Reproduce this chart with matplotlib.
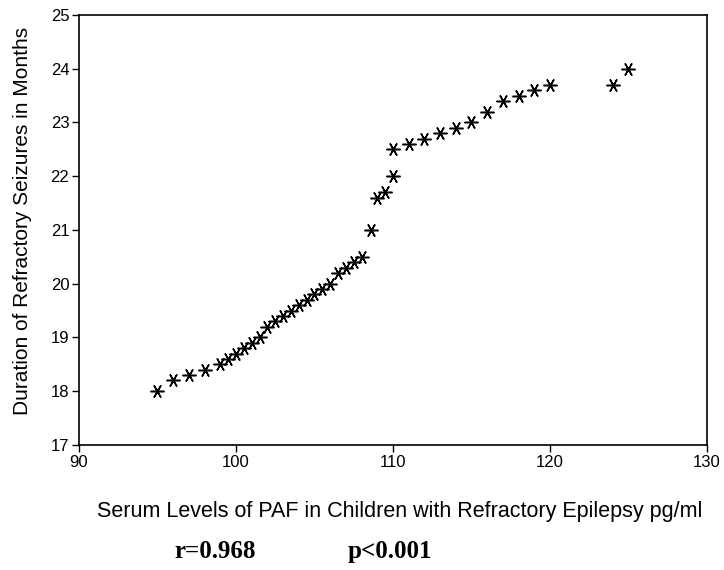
import matplotlib
matplotlib.use('Agg')
from matplotlib import pyplot as plt

# serum PAF (pg/ml) vs duration of refractory seizures (months)
paf = [95, 96, 97, 98, 99, 99.5, 100, 100.5, 101, 101.5,
       102, 102.5, 103, 103.5, 104, 104.5, 105, 105.5, 106, 106.5,
       107, 107.5, 108, 108.6, 109, 109.5, 110, 110, 111, 112,
       113, 114, 115, 116, 117, 118, 119, 120, 124, 125]
duration = [18.0, 18.2, 18.3, 18.4, 18.5, 18.6, 18.7, 18.8, 18.9, 19.0,
            19.2, 19.3, 19.4, 19.5, 19.6, 19.7, 19.8, 19.9, 20.0, 20.2,
            20.3, 20.4, 20.5, 21.0, 21.6, 21.7, 22.0, 22.5, 22.6, 22.7,
            22.8, 22.9, 23.0, 23.2, 23.4, 23.5, 23.6, 23.7, 23.7, 24.0]

xticks = [90, 100, 110, 120, 130]
yticks = [17, 18, 19, 20, 21, 22, 23, 24, 25]

plt.rcParams['font.family'] = ['Liberation Sans', 'DejaVu Sans']

fig = plt.figure(figsize=(7.24, 5.70), dpi=100)
ax = fig.add_axes([0.1091, 0.2193, 0.8674, 0.7544])

ax.plot(paf, duration, linestyle='none', marker=(6, 2, 90),
        markersize=10, markeredgewidth=1.1, color='black')

ax.set_xlim(90, 130)
ax.set_ylim(17, 25)
ax.set_xticks(xticks)
ax.set_yticks(yticks)
ax.tick_params(direction='out', length=5, width=1, labelsize=12, pad=2)
for s in ax.spines.values():
    s.set_linewidth(1.2)

fig.text(0.552, 0.103, 'Serum Levels of PAF in Children with Refractory Epilepsy pg/ml',
         ha='center', va='center', fontsize=15.5)
fig.text(0.031, 0.612, 'Duration of Refractory Seizures in Months', rotation=90,
         ha='center', va='center', fontsize=15)

fig.text(0.297, 0.033, 'r=0.968', ha='center', va='center', fontsize=18,
         fontweight='bold', family=['Liberation Serif', 'DejaVu Serif'])
fig.text(0.538, 0.033, 'p<0.001', ha='center', va='center', fontsize=18,
         fontweight='bold', family=['Liberation Serif', 'DejaVu Serif'])

fig.savefig('out.png', dpi=100)
plt.close(fig)
